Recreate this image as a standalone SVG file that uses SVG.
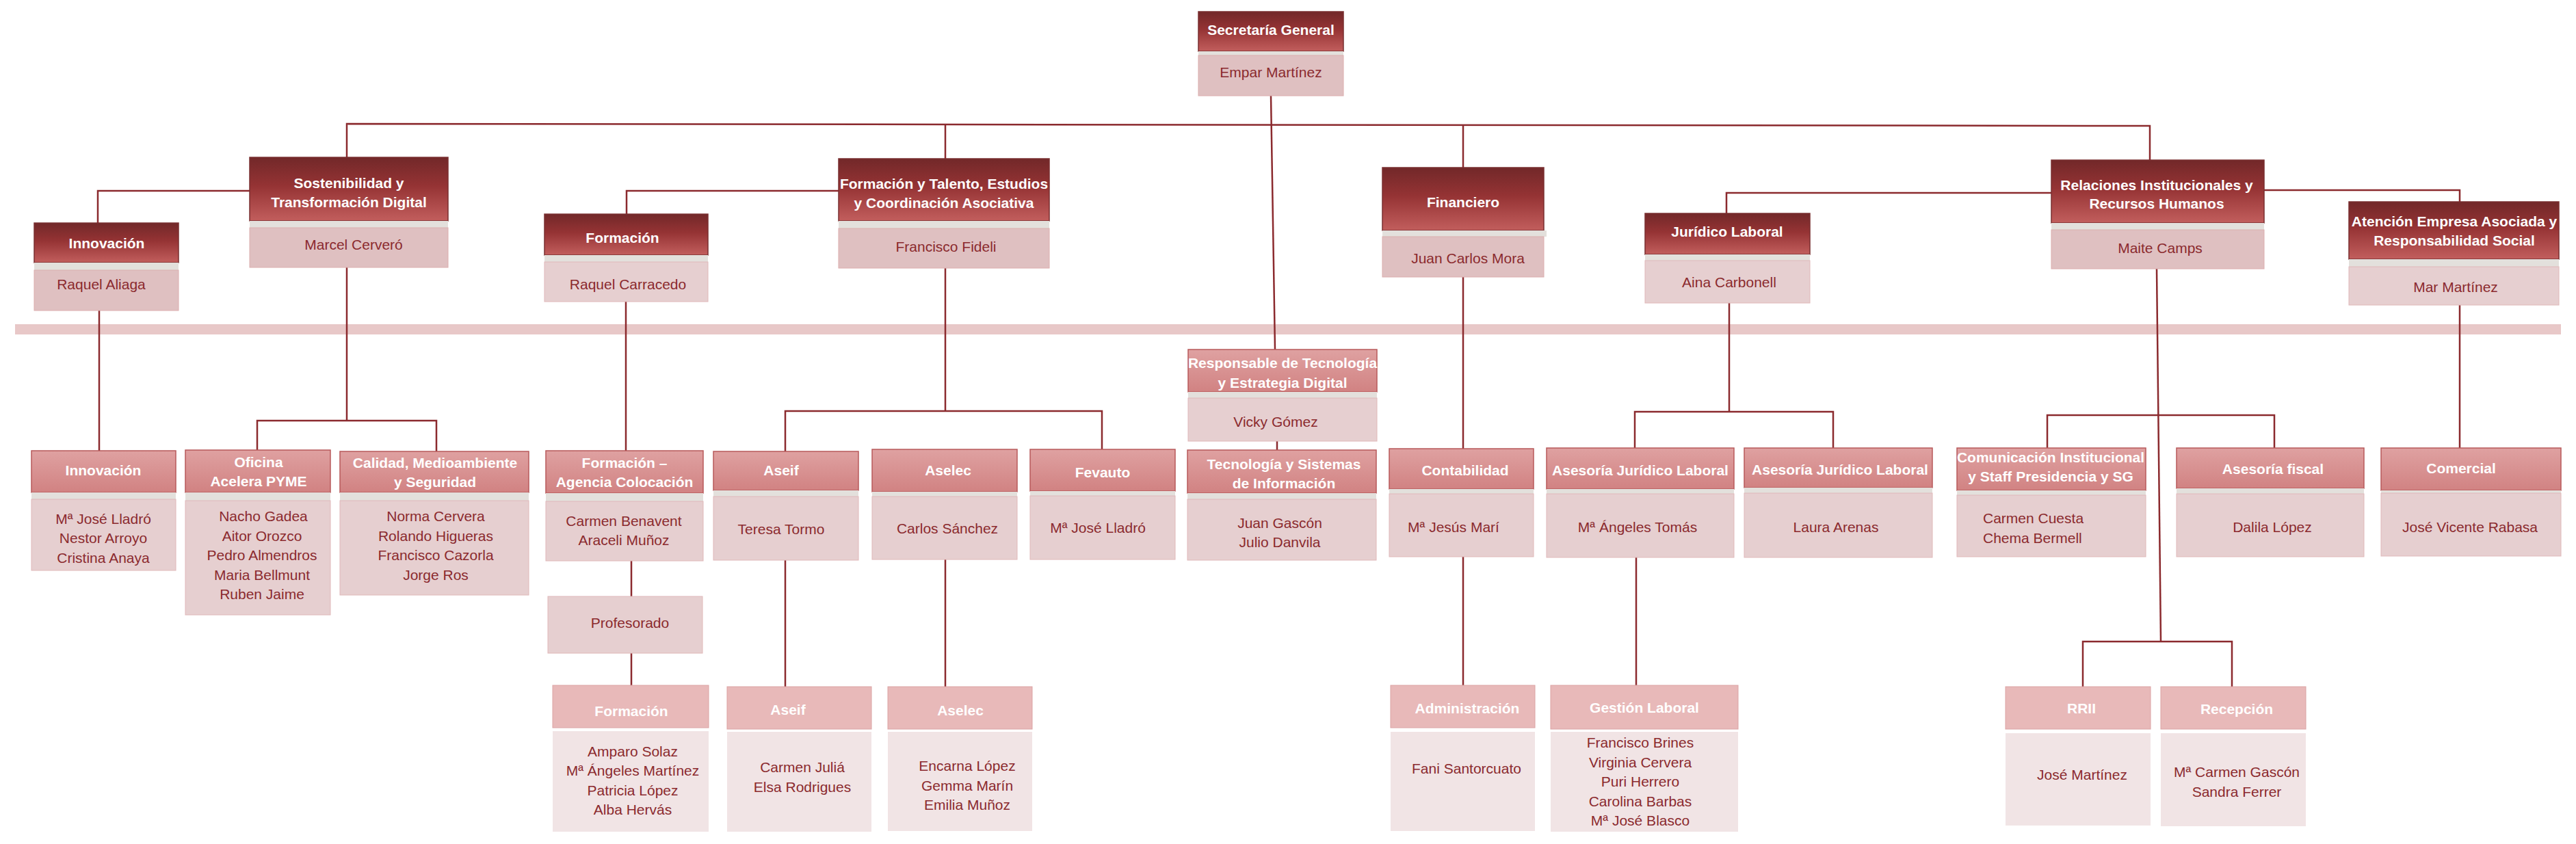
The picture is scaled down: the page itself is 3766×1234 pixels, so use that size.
<svg xmlns="http://www.w3.org/2000/svg" width="3766" height="1234" viewBox="0 0 3766 1234">
<defs>
<linearGradient id="gDark" x1="0" y1="0" x2="0" y2="1"><stop offset="0" stop-color="#722829"/><stop offset="0.45" stop-color="#953334"/><stop offset="1" stop-color="#c25e5d"/></linearGradient>
<linearGradient id="gMid" x1="0" y1="0" x2="0" y2="1"><stop offset="0" stop-color="#dfa1a1"/><stop offset="1" stop-color="#d18282"/></linearGradient>
</defs>
<style>
.h1{fill:url(#gDark);stroke:#7a2f30;stroke-width:1.5}
.h2{fill:url(#gMid);stroke:#b85a5b;stroke-width:1.5}
.h3{fill:#e8b9b9;stroke:#dba3a4;stroke-width:1}
.g{fill:#e3e0dc}
.b1{fill:#dfc0c1;stroke:#dcaeae;stroke-width:1}
.b2{fill:#e6cfd0;stroke:#e0b8b9;stroke-width:1}
.b3{fill:#f1e4e5}
.ht{font-family:"Liberation Sans Narrow","Liberation Sans",Arial,sans-serif;font-weight:bold;font-size:21px;fill:#ffffff;text-anchor:middle;dominant-baseline:central}
.bt{font-family:"Liberation Sans Narrow","Liberation Sans",Arial,sans-serif;font-size:21px;fill:#8b2a2e;text-anchor:middle;dominant-baseline:central}
.c{fill:none;stroke:#8b2a2e;stroke-width:2.5}
</style>
<rect x="22" y="474" width="3722" height="15" fill="#e8c8c8"/>
<g id="connectors">
<path class="c" d="M507 230 V181 L3143 184 V234"/>
<path class="c" d="M1382 182 V232"/>
<path class="c" d="M2139 183 V245"/>
<path class="c" d="M1858 140 L1864 511"/>
<path class="c" d="M365 279 H143 V326"/>
<path class="c" d="M1226 279 H916 V313"/>
<path class="c" d="M2999 282 H2524 V312"/>
<path class="c" d="M3310 278 H3596 V295"/>
<path class="c" d="M145 454 V659"/>
<path class="c" d="M507 391 V615"/>
<path class="c" d="M376 658 V615 H638 V660"/>
<path class="c" d="M915 441 V659"/>
<path class="c" d="M923 820 V872 M923 955 V1002"/>
<path class="c" d="M1382 392 V601"/>
<path class="c" d="M1148 660 V601 H1611 V657"/>
<path class="c" d="M1148 819 V1004"/>
<path class="c" d="M1382 818 V1004"/>
<path class="c" d="M1867 645 V658"/>
<path class="c" d="M2139 405 V656 M2139 814 V1002"/>
<path class="c" d="M2528 443 V602"/>
<path class="c" d="M2390 655 V602 H2680 V655"/>
<path class="c" d="M2392 815 V1002"/>
<path class="c" d="M3153 393 L3159 938"/>
<path class="c" d="M2993 655 V607 H3325 V655"/>
<path class="c" d="M3045 1004 V938 H3263 V1004"/>
<path class="c" d="M3596 446 V655"/>
</g>
<g id="secretaria"><rect class="h1" x="1752" y="17" width="212" height="58"/><rect class="g" x="1752" y="75" width="212" height="6"/><rect class="b1" x="1752" y="81" width="212" height="59"/><text class="ht" x="1858" y="43">Secretaría General</text><text class="bt" x="1858" y="105">Empar Martínez</text></g>
<g id="sostenibilidad"><rect class="h1" x="365" y="230" width="290" height="93"/><rect class="g" x="365" y="323" width="290" height="10"/><rect class="b1" x="365" y="333" width="290" height="58"/><text class="ht" x="510" y="267">Sostenibilidad y</text><text class="ht" x="510" y="295">Transformación Digital</text><text class="bt" x="517" y="357">Marcel Cerveró</text></g>
<g id="innovacion"><rect class="h1" x="50" y="326" width="211" height="58"/><rect class="g" x="50" y="384" width="211" height="11"/><rect class="b1" x="50" y="395" width="211" height="59"/><text class="ht" x="156" y="355">Innovación</text><text class="bt" x="148" y="415">Raquel Aliaga</text></g>
<g id="formacion"><rect class="h1" x="796" y="313" width="239" height="60"/><rect class="g" x="796" y="373" width="239" height="10"/><rect class="b2" x="796" y="383" width="239" height="58"/><text class="ht" x="910" y="347">Formación</text><text class="bt" x="918" y="415">Raquel Carracedo</text></g>
<g id="formacion-talento"><rect class="h1" x="1226" y="232" width="308" height="91"/><rect class="g" x="1226" y="323" width="308" height="11"/><rect class="b1" x="1226" y="334" width="308" height="58"/><text class="ht" x="1380" y="268">Formación y Talento, Estudios</text><text class="ht" x="1380" y="296">y Coordinación Asociativa</text><text class="bt" x="1383" y="360">Francisco Fideli</text></g>
<g id="financiero"><rect class="h1" x="2021" y="245" width="236" height="92"/><rect class="g" x="2021" y="337" width="240" height="9"/><rect class="b1" x="2021" y="346" width="236" height="59"/><text class="ht" x="2139" y="295">Financiero</text><text class="bt" x="2146" y="377">Juan Carlos Mora</text></g>
<g id="juridico"><rect class="h1" x="2405" y="312" width="241" height="60"/><rect class="g" x="2405" y="372" width="241" height="9"/><rect class="b2" x="2405" y="381" width="241" height="62"/><text class="ht" x="2525" y="338">Jurídico Laboral</text><text class="bt" x="2528" y="412">Aina Carbonell</text></g>
<g id="relaciones"><rect class="h1" x="2999" y="234" width="311" height="92"/><rect class="g" x="2999" y="326" width="311" height="10"/><rect class="b1" x="2999" y="336" width="311" height="57"/><text class="ht" x="3153" y="270">Relaciones Institucionales y</text><text class="ht" x="3153" y="297">Recursos Humanos</text><text class="bt" x="3158" y="362">Maite Camps</text></g>
<g id="atencion"><rect class="h1" x="3434" y="295" width="307" height="84"/><rect class="g" x="3434" y="379" width="307" height="11"/><rect class="b2" x="3434" y="390" width="307" height="56"/><text class="ht" x="3588" y="323">Atención Empresa Asociada y</text><text class="ht" x="3588" y="351">Responsabilidad Social</text><text class="bt" x="3590" y="419">Mar Martínez</text></g>
<g id="responsable-tecnologia"><rect class="h2" x="1737" y="511" width="276" height="62"/><rect class="g" x="1737" y="573" width="276" height="9"/><rect class="b2" x="1737" y="582" width="276" height="63"/><text class="ht" x="1875" y="530">Responsable de Tecnología</text><text class="ht" x="1875" y="559">y Estrategia Digital</text><text class="bt" x="1865" y="616">Vicky Gómez</text></g>
<g id="innovacion-3"><rect class="h2" x="46" y="659" width="211" height="61"/><rect class="g" x="46" y="720" width="211" height="10"/><rect class="b2" x="46" y="730" width="211" height="104"/><text class="ht" x="151" y="687">Innovación</text><text class="bt" x="151" y="758">Mª José Lladró</text><text class="bt" x="151" y="786">Nestor Arroyo</text><text class="bt" x="151" y="815">Cristina Anaya</text></g>
<g id="oficina-pyme"><rect class="h2" x="271" y="658" width="212" height="62"/><rect class="g" x="271" y="720" width="212" height="12"/><rect class="b2" x="271" y="732" width="212" height="167"/><text class="ht" x="378" y="675">Oficina</text><text class="ht" x="378" y="703">Acelera PYME</text><text class="bt" x="385" y="754">Nacho Gadea</text><text class="bt" x="383" y="783">Aitor Orozco</text><text class="bt" x="383" y="811">Pedro Almendros</text><text class="bt" x="383" y="840">Maria Bellmunt</text><text class="bt" x="383" y="868">Ruben Jaime</text></g>
<g id="calidad"><rect class="h2" x="497" y="660" width="276" height="60"/><rect class="g" x="497" y="720" width="276" height="12"/><rect class="b2" x="497" y="732" width="276" height="138"/><text class="ht" x="636" y="676">Calidad, Medioambiente</text><text class="ht" x="636" y="704">y Seguridad</text><text class="bt" x="637" y="754">Norma Cervera</text><text class="bt" x="637" y="783">Rolando Higueras</text><text class="bt" x="637" y="811">Francisco Cazorla</text><text class="bt" x="637" y="840">Jorge Ros</text></g>
<g id="formacion-agencia"><rect class="h2" x="798" y="659" width="230" height="62"/><rect class="g" x="798" y="721" width="230" height="12"/><rect class="b2" x="798" y="733" width="230" height="87"/><text class="ht" x="913" y="676">Formación –</text><text class="ht" x="913" y="704">Agencia Colocación</text><text class="bt" x="912" y="761">Carmen Benavent</text><text class="bt" x="912" y="789">Araceli Muñoz</text></g>
<g id="profesorado"><rect class="b2" x="801" y="872" width="226" height="83"/><text class="bt" x="921" y="910">Profesorado</text></g>
<g id="aseif"><rect class="h2" x="1043" y="660" width="212" height="57"/><rect class="g" x="1043" y="717" width="212" height="9"/><rect class="b2" x="1043" y="726" width="212" height="93"/><text class="ht" x="1142" y="687">Aseif</text><text class="bt" x="1142" y="773">Teresa Tormo</text></g>
<g id="aselec"><rect class="h2" x="1275" y="657" width="212" height="62"/><rect class="g" x="1275" y="719" width="212" height="7"/><rect class="b2" x="1275" y="726" width="212" height="92"/><text class="ht" x="1386" y="687">Aselec</text><text class="bt" x="1385" y="772">Carlos Sánchez</text></g>
<g id="fevauto"><rect class="h2" x="1506" y="657" width="212" height="61"/><rect class="g" x="1506" y="718" width="212" height="7"/><rect class="b2" x="1506" y="725" width="212" height="93"/><text class="ht" x="1612" y="690">Fevauto</text><text class="bt" x="1605" y="771">Mª José Lladró</text></g>
<g id="tecnologia-sistemas"><rect class="h2" x="1736" y="658" width="276" height="63"/><rect class="g" x="1736" y="721" width="276" height="9"/><rect class="b2" x="1736" y="730" width="276" height="89"/><text class="ht" x="1877" y="678">Tecnología y Sistemas</text><text class="ht" x="1877" y="706">de Información</text><text class="bt" x="1871" y="764">Juan Gascón</text><text class="bt" x="1871" y="792">Julio Danvila</text></g>
<g id="contabilidad"><rect class="h2" x="2031" y="656" width="211" height="59"/><rect class="g" x="2031" y="715" width="211" height="7"/><rect class="b2" x="2031" y="722" width="211" height="92"/><text class="ht" x="2142" y="687">Contabilidad</text><text class="bt" x="2125" y="770">Mª Jesús Marí</text></g>
<g id="asesoria-juridico-1"><rect class="h2" x="2261" y="655" width="274" height="60"/><rect class="g" x="2261" y="715" width="274" height="7"/><rect class="b2" x="2261" y="722" width="274" height="93"/><text class="ht" x="2398" y="687">Asesoría Jurídico Laboral</text><text class="bt" x="2394" y="770">Mª Ángeles Tomás</text></g>
<g id="asesoria-juridico-2"><rect class="h2" x="2550" y="655" width="275" height="58"/><rect class="g" x="2550" y="713" width="275" height="8"/><rect class="b2" x="2550" y="721" width="275" height="94"/><text class="ht" x="2690" y="686">Asesoría Jurídico Laboral</text><text class="bt" x="2684" y="770">Laura Arenas</text></g>
<g id="comunicacion"><rect class="h2" x="2861" y="655" width="276" height="62"/><rect class="g" x="2861" y="717" width="276" height="7"/><rect class="b2" x="2861" y="724" width="276" height="90"/><text class="ht" x="2998" y="668">Comunicación Institucional</text><text class="ht" x="2998" y="696">y Staff Presidencia y SG</text><text class="bt" x="2899" y="757" style="text-anchor:start">Carmen Cuesta</text><text class="bt" x="2899" y="786" style="text-anchor:start">Chema Bermell</text></g>
<g id="asesoria-fiscal"><rect class="h2" x="3182" y="655" width="274" height="59"/><rect class="g" x="3182" y="714" width="274" height="8"/><rect class="b2" x="3182" y="722" width="274" height="92"/><text class="ht" x="3323" y="685">Asesoría fiscal</text><text class="bt" x="3322" y="770">Dalila López</text></g>
<g id="comercial"><rect class="h2" x="3481" y="655" width="263" height="62"/><rect class="g" x="3481" y="717" width="263" height="4"/><rect class="b2" x="3481" y="721" width="263" height="92"/><text class="ht" x="3598" y="684">Comercial</text><text class="bt" x="3611" y="770">José Vicente Rabasa</text></g>
<g id="formacion-4"><rect class="h3" x="808" y="1002" width="228" height="62"/><rect class="b3" x="808" y="1069" width="228" height="147"/><text class="ht" x="923" y="1039">Formación</text><text class="bt" x="925" y="1098">Amparo Solaz</text><text class="bt" x="925" y="1126">Mª Ángeles Martínez</text><text class="bt" x="925" y="1155">Patricia López</text><text class="bt" x="925" y="1183">Alba Hervás</text></g>
<g id="aseif-4"><rect class="h3" x="1063" y="1004" width="211" height="62"/><rect class="b3" x="1063" y="1070" width="211" height="146"/><text class="ht" x="1152" y="1037">Aseif</text><text class="bt" x="1173" y="1121">Carmen Juliá</text><text class="bt" x="1173" y="1150">Elsa Rodrigues</text></g>
<g id="aselec-4"><rect class="h3" x="1298" y="1004" width="211" height="62"/><rect class="b3" x="1298" y="1070" width="211" height="145"/><text class="ht" x="1404" y="1038">Aselec</text><text class="bt" x="1414" y="1119">Encarna López</text><text class="bt" x="1414" y="1148">Gemma Marín</text><text class="bt" x="1414" y="1176">Emilia Muñoz</text></g>
<g id="administracion"><rect class="h3" x="2033" y="1002" width="211" height="62"/><rect class="b3" x="2033" y="1070" width="211" height="145"/><text class="ht" x="2145" y="1035">Administración</text><text class="bt" x="2144" y="1123">Fani Santorcuato</text></g>
<g id="gestion-laboral"><rect class="h3" x="2267" y="1002" width="274" height="64"/><rect class="b3" x="2267" y="1070" width="274" height="146"/><text class="ht" x="2404" y="1034">Gestión  Laboral</text><text class="bt" x="2398" y="1085">Francisco Brines</text><text class="bt" x="2398" y="1114">Virginia Cervera</text><text class="bt" x="2398" y="1142">Puri Herrero</text><text class="bt" x="2398" y="1171">Carolina Barbas</text><text class="bt" x="2398" y="1199">Mª José Blasco</text></g>
<g id="rrii"><rect class="h3" x="2932" y="1004" width="212" height="62"/><rect class="b3" x="2932" y="1072" width="212" height="135"/><text class="ht" x="3043" y="1035">RRII</text><text class="bt" x="3044" y="1132">José Martínez</text></g>
<g id="recepcion"><rect class="h3" x="3159" y="1004" width="212" height="62"/><rect class="b3" x="3159" y="1072" width="212" height="136"/><text class="ht" x="3270" y="1036">Recepción</text><text class="bt" x="3270" y="1128">Mª Carmen Gascón</text><text class="bt" x="3270" y="1157">Sandra Ferrer</text></g>
</svg>
